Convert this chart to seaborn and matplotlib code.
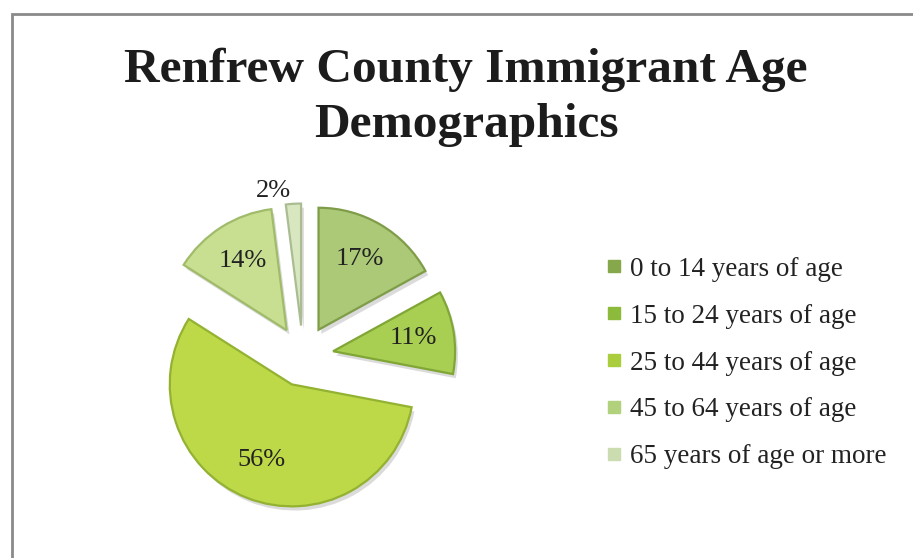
import matplotlib
matplotlib.use("Agg")
import matplotlib.pyplot as plt
import matplotlib.patheffects as pe
from matplotlib.lines import Line2D
from matplotlib.patches import Rectangle
import numpy as np
import seaborn as sns

# Age groups of immigrants (share of total, %)
age_groups = [
    "0 to 14 years of age",
    "15 to 24 years of age",
    "25 to 44 years of age",
    "45 to 64 years of age",
    "65 years of age or more",
]
shares = [17, 11, 56, 14, 2]
slice_colors = ["#abc976", "#a9cf52", "#bdd948", "#c8df92", "#d8e7c0"]
edge_colors = ["#7f9d48", "#80a636", "#93b232", "#a0bb6a", "#aabd92"]
legend_colors = ["#86a84a", "#8cba3a", "#a9cd3c", "#b2d17c", "#cbdcb0"]

sns.set_theme(style="white")
plt.rcParams["font.family"] = ["Liberation Serif", "DejaVu Serif"]

W, H = 913, 558
fig = plt.figure(figsize=(W / 100, H / 100), dpi=100)
fig.patch.set_facecolor("white")

# Pie axes: square, centred on the pie
cx, cy, R, S = 303, 356, 122, 400
ax = fig.add_axes([(cx - S / 2) / W, (H - cy - S / 2) / H, S / W, S / H])
wedges, texts, autotexts = ax.pie(
    shares,
    explode=[0.25] * len(shares),
    colors=slice_colors,
    startangle=90,
    counterclock=False,
    autopct=lambda p: f"{p:.0f}%",
    pctdistance=0.67,
    wedgeprops=dict(linewidth=1.6),
    textprops=dict(fontsize=19, color="#222222"),
)
for w, ec in zip(wedges, edge_colors):
    w.set_edgecolor(ec)
    w.set_path_effects([
        pe.SimplePatchShadow(offset=(2, -3), shadow_rgbFace="#9a9a9a", alpha=0.35),
        pe.Normal(),
    ])

# The smallest slice gets its label outside the pie
small = int(np.argmin(shares))
w = wedges[small]
mid = np.deg2rad((w.theta1 + w.theta2) / 2 + 8)
x0, y0 = w.center
autotexts[small].set_position((x0 + 1.13 * np.cos(mid), y0 + 1.13 * np.sin(mid)))

L = (S / 2) / R
ax.set_xlim(-L, L)
ax.set_ylim(-L, L)
ax.set_aspect("equal")
ax.axis("off")

# Title
fig.text(466 / W, 1 - 82 / H, "Renfrew County Immigrant Age", ha="center",
         va="baseline", fontsize=35.6, fontweight="bold", color="#1c1c1c")
fig.text(466 / W, 1 - 137 / H, "Demographics", ha="center",
         va="baseline", fontsize=35.6, fontweight="bold", color="#1c1c1c")

# Legend
handles = [Line2D([], [], linestyle="none", marker="s", markersize=9,
                  markerfacecolor=c, markeredgecolor=c) for c in legend_colors]
fig.legend(handles, age_groups, loc="center left",
           bbox_to_anchor=(595 / W, 1 - 363 / H), frameon=False,
           fontsize=19.5, labelspacing=0.81, handlelength=0.6,
           handletextpad=0.3, borderaxespad=0, labelcolor="#222222")

# Chart border
fig.add_artist(Rectangle((12 / W, -0.1), 1.2, 1.1 - 14 / H,
                         transform=fig.transFigure, fill=False,
                         edgecolor="#8a8a8a", linewidth=2))

fig.savefig("out.png", dpi=100)
